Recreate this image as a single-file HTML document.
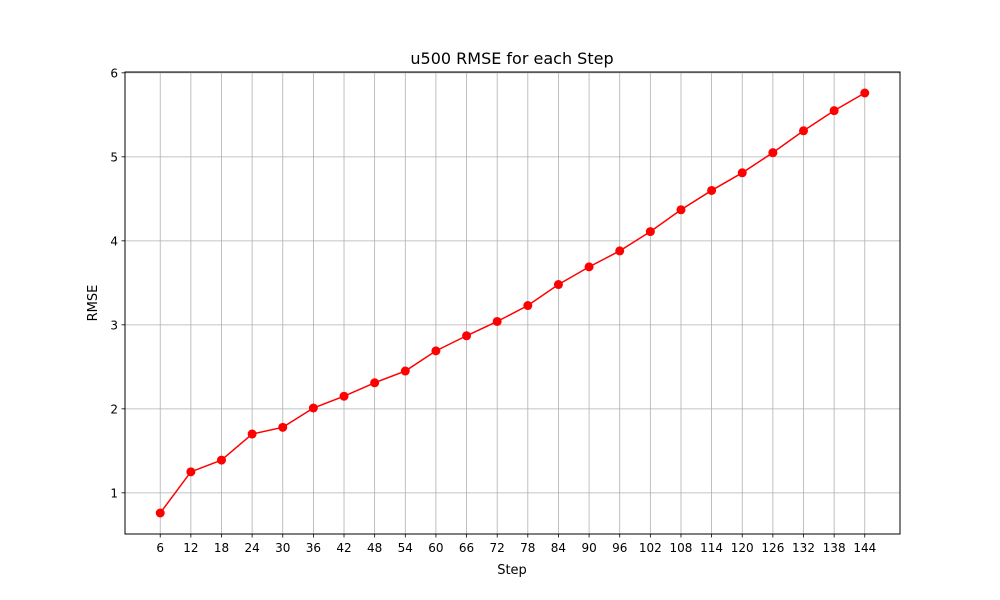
<!DOCTYPE html>
<html><head><meta charset="utf-8"><style>
body{margin:0;background:#fff;}
svg{display:block;font-family:"DejaVu Sans","Liberation Sans",sans-serif;}
</style></head><body>
<svg id="chart" width="1000" height="600">
<rect width="1000" height="600" fill="#fff"/>
<g id="grid"></g>
<g id="xticks"></g>
<g id="yticks"></g>
<rect x="125" y="72" width="775" height="462" fill="none" stroke="#000" stroke-width="1"/>
<g id="series"></g>
<text x="512" y="64" text-anchor="middle" font-size="16">u500 RMSE for each Step</text>
<text x="512" y="574" text-anchor="middle" font-size="13">Step</text>
<text x="97" y="303" text-anchor="middle" font-size="13" transform="rotate(-90 97 303)">RMSE</text>
</svg>
<script>
const steps=[6,12,18,24,30,36,42,48,54,60,66,72,78,84,90,96,102,108,114,120,126,132,138,144];
const rmse=[0.76,1.25,1.39,1.70,1.78,2.01,2.15,2.31,2.45,2.69,2.87,3.04,3.23,3.48,3.69,3.88,4.11,4.37,4.60,4.81,5.05,5.31,5.55,5.76];
const yTicks=[1,2,3,4,5,6];
const NS="http://www.w3.org/2000/svg";
const L=125,R=900,T=72,B=534;
const xmin=steps[0]-(steps[steps.length-1]-steps[0])*0.05, xmax=steps[steps.length-1]+(steps[steps.length-1]-steps[0])*0.05;
const dmin=Math.min(...rmse),dmax=Math.max(...rmse);
const ymin=dmin-(dmax-dmin)*0.05, ymax=dmax+(dmax-dmin)*0.05;
const xs=v=>L+(v-xmin)/(xmax-xmin)*(R-L);
const ys=v=>B-(v-ymin)/(ymax-ymin)*(B-T);
function mk(t,a,p){const e=document.createElementNS(NS,t);for(const k in a)e.setAttribute(k,a[k]);p.appendChild(e);return e;}
const grid=document.getElementById('grid'),gx=document.getElementById('xticks'),gy=document.getElementById('yticks'),gs=document.getElementById('series');
steps.forEach(s=>{
  const x=xs(s);
  const g=mk('line',{x1:x,x2:x,y1:T,y2:B,stroke:'#b0b0b0','stroke-width':0.8},grid);
  
  
  const t=mk('line',{x1:x,x2:x,y1:B,y2:B+3.5,stroke:'#000','stroke-width':0.8},gx);
  
  
  const l=mk('text',{x:x,y:B+18,'text-anchor':'middle','font-size':12},gx);l.textContent=s;
  
  
});
yTicks.forEach(v=>{
  const y=ys(v);
  const g=mk('line',{x1:L,x2:R,y1:y,y2:y,stroke:'#b0b0b0','stroke-width':0.8},grid);
  
  
  const t=mk('line',{x1:L-3.5,x2:L,y1:y,y2:y,stroke:'#000','stroke-width':0.8},gy);
  
  
  const l=mk('text',{x:L-7,y:y+4.5,'text-anchor':'end','font-size':12},gy);l.textContent=v;
  
  
});
const pts=steps.map((s,i)=>xs(s)+','+ys(rmse[i])).join(' ');
const pl=mk('polyline',{points:pts,fill:'none',stroke:'#ff0000','stroke-width':1.5},gs);


steps.forEach((s,i)=>{
  const c=mk('circle',{cx:xs(s),cy:ys(rmse[i]),r:4.5,fill:'#ff0000'},gs);
  
  
});
</script>
</body></html>
